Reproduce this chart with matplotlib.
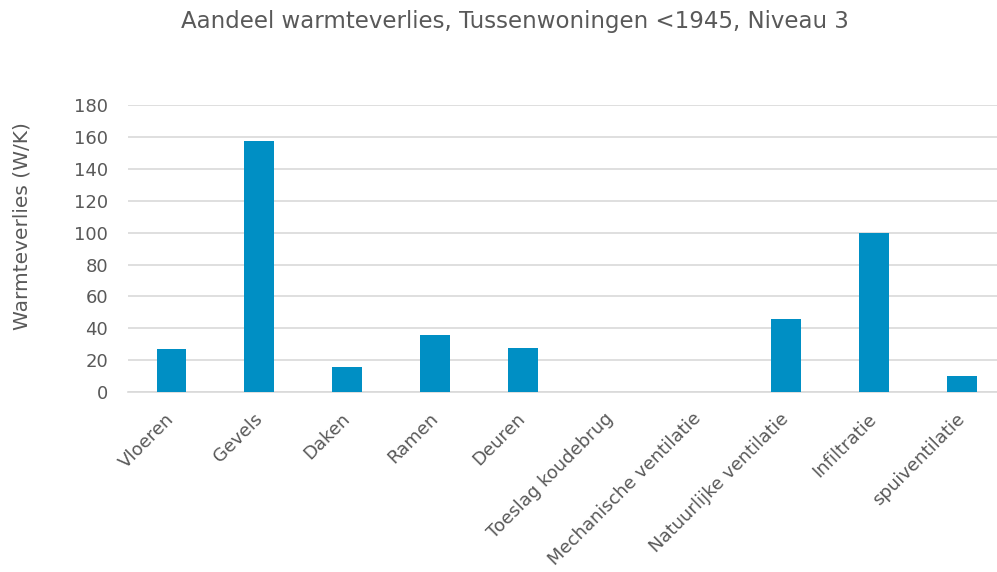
import matplotlib
matplotlib.use("Agg")
import matplotlib.pyplot as plt

# data
categorieen = ["Vloeren", "Gevels", "Daken", "Ramen", "Deuren",
               "Toeslag koudebrug", "Mechanische ventilatie",
               "Natuurlijke ventilatie", "Infiltratie", "spuiventilatie"]
warmteverlies = [27, 157, 16, 36, 28, 0, 0, 46, 100, 10]
yticks = [0, 20, 40, 60, 80, 100, 120, 140, 160, 180]

tekst = "#595959"
plt.rcParams["font.family"] = ["DejaVu Sans"]

fig = plt.figure(figsize=(9.97, 5.72), dpi=100)
ax = fig.add_axes([0.128, 0.314, 0.872, 0.503])

x = range(len(categorieen))
ax.bar(x, warmteverlies, width=0.34, color="#008FC4", zorder=3)

ax.set_ylim(0, 180)
ax.set_xlim(-0.5, 9.4)
ax.set_yticks(yticks)
ax.set_yticklabels([str(v) for v in yticks], fontsize=13, color=tekst)
ax.grid(axis="y", color="#d9d9d9", linewidth=1.2, zorder=0)
ax.set_xticks(list(x))
ax.set_xticklabels(categorieen, rotation=45, ha="right", va="center",
                   rotation_mode="anchor", fontsize=13, color=tekst)
ax.tick_params(axis="both", length=0)
ax.tick_params(axis="x", pad=17)
ax.tick_params(axis="y", pad=14)
for s in ["top", "right", "left"]:
    ax.spines[s].set_visible(False)
ax.spines["bottom"].set_color("#d9d9d9")
ax.spines["bottom"].set_linewidth(1.2)

# y-as titel staat iets boven het midden van de as
fig.text(0.022, 0.605, "Warmteverlies (W/K)", rotation=90, ha="center",
         va="center", fontsize=14.5, color=tekst)
fig.text(0.516, 0.962, "Aandeel warmteverlies, Tussenwoningen <1945, Niveau 3",
         ha="center", va="center", fontsize=16.5, color=tekst)

fig.savefig("out.png", dpi=100)
